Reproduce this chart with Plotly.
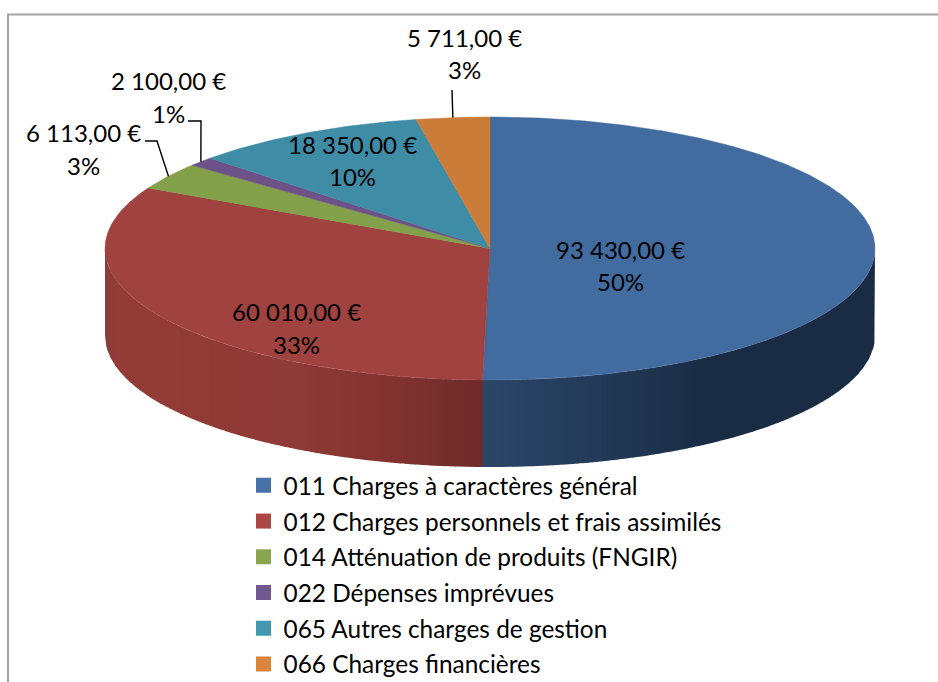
import math
import plotly.graph_objects as go

# --- data ---
categories = ["011 Charges à caractères général", "012 Charges personnels et frais assimilés",
              "014 Atténuation de produits (FNGIR)", "022 Dépenses imprévues",
              "065 Autres charges de gestion", "066 Charges financières"]
values = [93430.00, 60010.00, 6113.00, 2100.00, 18350.00, 5711.00]
percent_labels = ["50%", "33%", "3%", "1%", "10%", "3%"]

# --- styles and layout ---
top_colors = ["#426b9f", "#a04240", "#83a04a", "#6d5287", "#3f8ca6", "#cb7c39"]
legend_colors = ["#4572a7", "#aa4643", "#89a54e", "#71588f", "#4198af", "#db843d"]
FONT = "Lato"
LABEL_SIZE = 24
LEGEND_SIZE = 24.4
CX, CY, RX, RY, DEPTH = 490, 248.5, 385, 131.5, 87
label_centers = [(620, 249, 281), (296, 311, 344), (83, 132, 165),
                 (168, 80, 113), (352, 144, 176), (464, 37, 69)]
# leader-line elbows (label side); last point comes from the slice mid-angle
leaders = {2: [(145, 141), (157, 141)], 3: [(188, 121), (201, 121)], 5: [(452, 90)]}
red_stops = [(105, (0x8a, 0x3e, 0x39)), (115, (0x94, 0x3c, 0x38)), (300, (0x8e, 0x3a, 0x36)),
             (400, (0x80, 0x32, 0x2f)), (484, (0x6f, 0x2b, 0x2a))]
blue_stops = [(484, (0x2c, 0x46, 0x68)), (600, (0x23, 0x3a, 0x58)),
              (700, (0x1b, 0x2d, 0x45)), (875, (0x1a, 0x2c, 0x43))]
STRIP = 5


def point(theta):
    return CX + RX * math.sin(theta), CY - RY * math.cos(theta)


def shade(stops, x):
    for (x0, c0), (x1, c1) in zip(stops, stops[1:]):
        if x <= x1:
            t = max(0, (x - x0) / (x1 - x0))
            return "rgb(%d,%d,%d)" % tuple(a + (b - a) * t for a, b in zip(c0, c1))
    return "rgb(%d,%d,%d)" % stops[-1][1]


def front_y(x):
    u = max(-1, min(1, (x - CX) / RX))
    return CY + RY * math.sqrt(1 - u * u)


def money(v):
    return f"{v:,.2f}".replace(",", " ").replace(".", ",") + " €"


total = sum(values)
angles = [0]
for v in values:
    angles.append(angles[-1] + v / total * 2 * math.pi)

fig = go.Figure()

# frame
fig.add_shape(type="rect", xref="x", yref="y", x0=8, y0=14.5, x1=960, y1=700,
              line=dict(color="#a3a3a3", width=2), fillcolor="white", layer="below")

# side wall: narrow strips, coloured by which slice faces the viewer
split_x = point(angles[1])[0]
x = CX - RX
while x < CX + RX:
    x1 = min(x + STRIP, CX + RX)
    if x < split_x:
        x1 = min(x1, split_x)
    xs = [x + (x1 - x) * i / 4 for i in range(5)]
    xr = min(x1 + 0.7, CX + RX)
    poly_x = xs + [xr] + [xr] + xs[::-1]
    poly_y = [front_y(a) for a in xs] + [front_y(xr)] + [front_y(xr) + DEPTH] + [front_y(a) + DEPTH for a in xs[::-1]]
    color = shade(red_stops, x) if x < split_x else shade(blue_stops, x)
    fig.add_trace(go.Scatter(x=poly_x, y=poly_y, mode="lines", fill="toself", fillcolor=color,
                             line=dict(width=0, color=color), hoverinfo="skip", showlegend=False))
    x = x1

# top face
for i, name in enumerate(categories):
    n = max(3, int((angles[i + 1] - angles[i]) / 0.01))
    pts = [point(angles[i] + (angles[i + 1] - angles[i]) * k / n) for k in range(n + 1)]
    fig.add_trace(go.Scatter(x=[CX] + [p[0] for p in pts] + [CX], y=[CY] + [p[1] for p in pts] + [CY],
                             mode="lines", fill="toself", fillcolor=top_colors[i], name=name,
                             line=dict(width=0.5, color=top_colors[i]), showlegend=False,
                             hovertemplate=f"{name}<br>{money(values[i])}<extra></extra>"))

# leaders
for i, pts in leaders.items():
    end = point((angles[i] + angles[i + 1]) / 2)
    fig.add_trace(go.Scatter(x=[p[0] for p in pts] + [end[0]], y=[p[1] for p in pts] + [end[1]],
                             mode="lines", line=dict(color="black", width=1.4),
                             hoverinfo="skip", showlegend=False))

# legend proxies
for i, name in enumerate(categories):
    fig.add_trace(go.Scatter(x=[None], y=[None], mode="markers", name=name, legendgroup=name,
                             marker=dict(symbol="square", size=15, color=legend_colors[i])))

# data labels
for i, (cx, y1, y2) in enumerate(label_centers):
    for txt, yy in ((money(values[i]), y1), (percent_labels[i], y2)):
        fig.add_annotation(x=cx, y=yy, xref="x", yref="y", text=txt, showarrow=False,
                           xanchor="center", yanchor="middle",
                           font=dict(family=FONT, size=LABEL_SIZE, color="black"))

fig.update_layout(
    width=938, height=682, margin=dict(l=0, r=0, t=0, b=0, autoexpand=False), autosize=False,
    paper_bgcolor="white", plot_bgcolor="white",
    xaxis=dict(range=[0, 938], visible=False, fixedrange=True),
    yaxis=dict(range=[682, 0], visible=False, fixedrange=True),
    legend=dict(x=243.5 / 938, xanchor="left", y=1 - 463 / 682, yanchor="top",
                traceorder="grouped", tracegroupgap=1, bgcolor="rgba(0,0,0,0)",
                font=dict(family=FONT, size=LEGEND_SIZE, color="black")),
)
fig.write_html("out.html", post_script="document.body.style.margin='0';",
               config={"displayModeBar": False})
